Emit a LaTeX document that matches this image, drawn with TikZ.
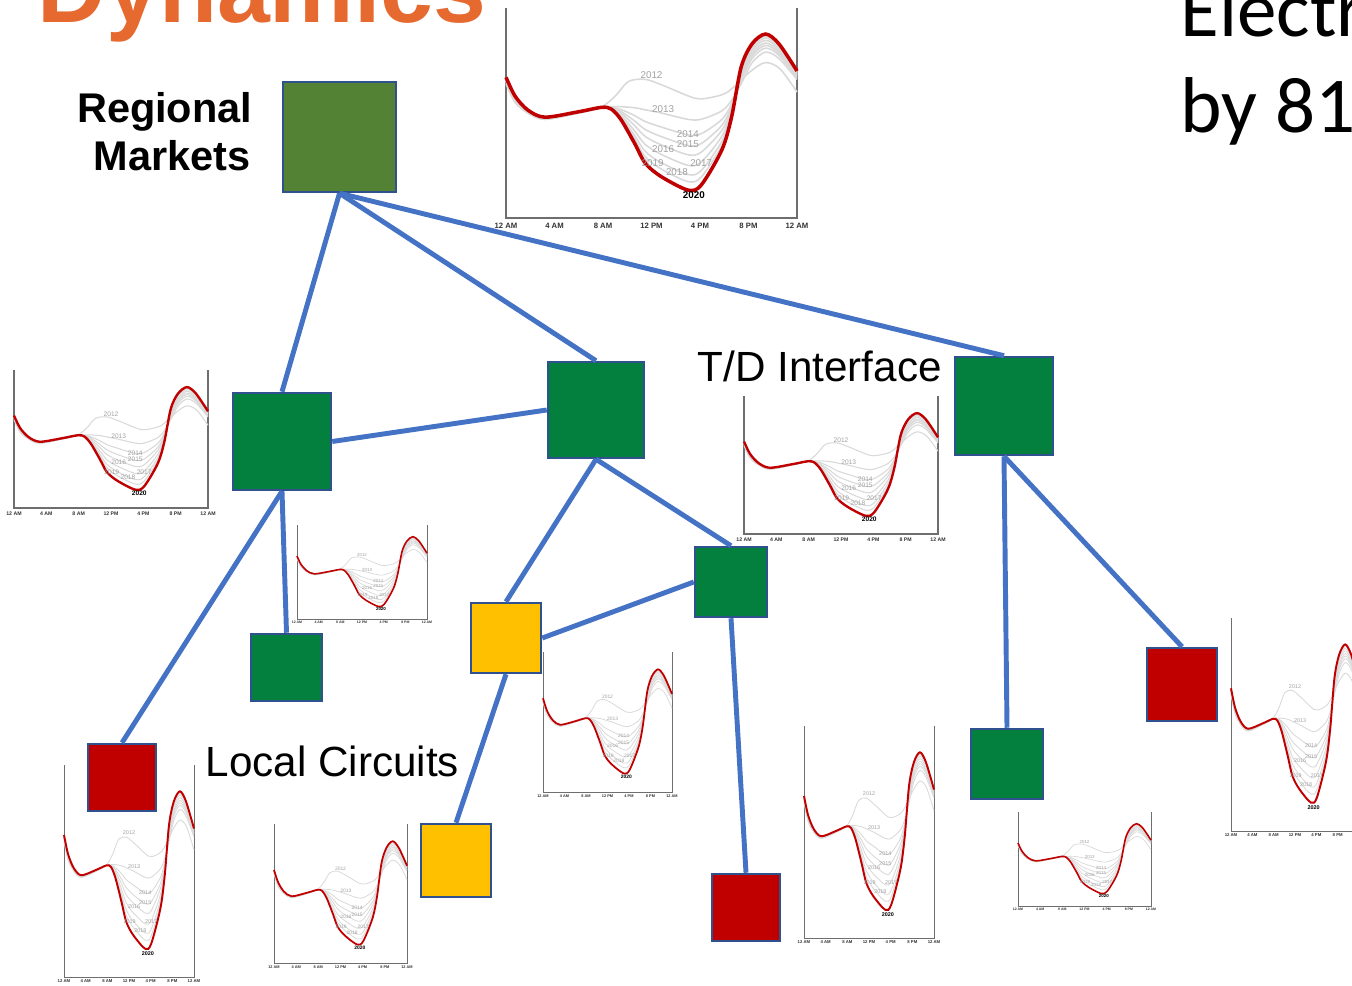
\documentclass[tikz,border=0pt]{standalone}
\usepackage{fontspec}
\setmainfont{Liberation Sans}
\newfontfamily\slidefont{Carlito}
\usepackage{tikz}

\definecolor{titleorange}{RGB}{230,106,48}
\definecolor{boxblue}{RGB}{47,82,143}
\definecolor{linkblue}{RGB}{68,114,196}
\definecolor{olivegreen}{RGB}{84,130,53}
\definecolor{gridgreen}{RGB}{4,128,62}
\definecolor{loadyellow}{RGB}{255,192,0}
\definecolor{loadred}{RGB}{192,0,0}
\definecolor{curvegrey}{RGB}{217,217,217}
\definecolor{yeargrey}{RGB}{160,160,160}
\definecolor{axisgrey}{RGB}{110,110,110}

\tikzset{
  box/.style={draw=boxblue, line width=0.7pt, inner sep=0pt},
  link/.style={draw=linkblue, line width=1.4pt},
  axisline/.style={draw=axisgrey, line width=0.45pt*\cs},
  greyline/.style={draw=curvegrey, line width=0.45pt*\cs},
  redline/.style={draw=loadred, line width=1pt*\cs},
  yearlabel/.style={text=yeargrey, inner sep=0pt, font=\fontsize{\yfs}{\yfs}\selectfont},
  ticklabel/.style={text=black!80, inner sep=0pt, font=\fontsize{\tfs}{\tfs}\selectfont\bfseries},
}

% mix of the 2013 curve and the 2020 curve
\newcommand{\yy}[2]{(#1)*(1-\dt)+(#2)*\dt}
\newcommand{\duckline}[1]{\draw[#1] plot[smooth] coordinates {
  (0,{\yy{.65}{.67}}) (0.75,{\yy{.56}{.58}}) (1.8,{\yy{.50}{.514}}) (3.2,{\yy{.47}{.48}})
  (6,{\yy{.50}{.506}}) (7.9,{\yy{.525}{.527}}) (8.7,{\yy{.53}{.518}}) (9.5,{\yy{.53}{.467}})
  (10.6,{\yy{.525}{.356}}) (11.5,{\yy{.515}{.26}}) (12.8,{\yy{.50}{.197}}) (15,{\yy{.47}{.133}})
  (16.1,{\yy{.47}{.157}}) (17.8,{\yy{.51}{.324}}) (18.6,{\yy{.56}{.48}}) (19.4,{\yy{.64}{.72}})
  (20.3,{\yy{.74}{.83}}) (21.4,{\yy{.79}{.876}}) (22.5,{\yy{.76}{.83}}) (24,{\yy{.66}{.70}})};}

% duck curve chart: name, left, bottom, width, height, size
\newcommand{\duckchart}[6]{%
  \pgfmathsetmacro{\cs}{#6}
  \pgfmathsetmacro{\yfs}{2.8*#6}
  \pgfmathsetmacro{\tfs}{2.2*#6}
  \begin{scope}[shift={(#2,#3)}, xscale=#4/24, yscale=-#5]
    \draw[axisline] (0,1) -- (0,0) -- (24,0) -- (24,1);
    % 2012
    \draw[greyline] plot[smooth] coordinates {(0,.64) (0.75,.55) (1.8,.50) (3.2,.47) (6,.50)
      (7.9,.53) (9,.58) (10.1,.65) (11.5,.66) (13,.63) (15.6,.57) (17,.575) (18.1,.594)
      (18.9,.63) (20.2,.70) (21.4,.74) (22.6,.71) (24,.60)};
    % 2013 to 2019
    \foreach \dt in {0,0.22,0.37,0.5,0.65,0.78,0.88} {\duckline{greyline}}
    % 2020
    \def\dt{1}\duckline{redline}
    \foreach \yr/\h/\v in {2012/12.0/0.68,2013/12.95/0.52,2014/15.0/0.40,2015/15.0/0.35,
        2016/12.95/0.33,2017/16.1/0.26,2018/14.1/0.22,2019/12.1/0.26}
      \node[yearlabel] (#1-\yr) at (\h,\v) {\yr};
    \node[yearlabel, text=black, font=\fontsize{\yfs}{\yfs}\selectfont\bfseries] (#1-2020) at (15.5,0.11) {2020};
    \foreach \h/\lab [count=\k] in {0/12 AM,4/4 AM,8/8 AM,12/12 PM,16/4 PM,20/8 PM,24/12 AM}
      \node[ticklabel] (#1-tick\k) at (\h,{-8*#6/#5}) {\lab};
  \end{scope}}

\begin{document}
\begin{tikzpicture}[x=0.01cm, y=-0.01cm]
    \useasboundingbox (0,0) rectangle (1352,986);
    \clip (0,0) rectangle (1352,986);

    % load charts
    \duckchart{top}{506}{218}{291}{210}{1}
    \duckchart{west}{14}{508}{194}{138}{0.67}
    \duckchart{mid}{297}{619}{130}{94}{0.45}
    \duckchart{td}{744}{534}{194}{138}{0.67}
    \duckchart{east}{543}{792}{129}{140}{0.5}
    \duckchart{low1}{64}{977}{130}{212}{0.55}
    \duckchart{low2}{274}{963}{133}{139}{0.5}
    \duckchart{low3}{804}{938}{130}{212}{0.55}
    \duckchart{low4}{1018}{906}{133}{94}{0.45}
    \duckchart{low5}{1231}{831}{128}{213}{0.55}

    % market and substations
    \node[box, fill=olivegreen, minimum width=1.13cm, minimum height=1.10cm] (market) at (339.5,137) {};
    \node[box, fill=gridgreen, minimum width=0.98cm, minimum height=0.97cm] (sub1) at (282,441.5) {};
    \node[box, fill=gridgreen, minimum width=0.96cm, minimum height=0.96cm] (sub2) at (596,410) {};
    \node[box, fill=gridgreen, minimum width=0.98cm, minimum height=0.98cm] (sub3) at (1004,406) {};

    % circuits
    \node[box, fill=gridgreen, minimum width=0.71cm, minimum height=0.67cm] (cktA) at (286.5,667.5) {};
    \node[box, fill=loadyellow, minimum width=0.70cm, minimum height=0.70cm] (cktB) at (506,638) {};
    \node[box, fill=gridgreen, minimum width=0.72cm, minimum height=0.70cm] (cktC) at (731,582) {};
    \node[box, fill=loadred, minimum width=0.68cm, minimum height=0.67cm] (cktD) at (122,777.5) {};
    \node[box, fill=loadyellow, minimum width=0.70cm, minimum height=0.73cm] (cktE) at (456,860.5) {};
    \node[box, fill=loadred, minimum width=0.68cm, minimum height=0.67cm] (cktF) at (746,907.5) {};
    \node[box, fill=gridgreen, minimum width=0.72cm, minimum height=0.70cm] (cktG) at (1007,764) {};
    \node[box, fill=loadred, minimum width=0.70cm, minimum height=0.73cm] (cktH) at (1182,684.5) {};

    % links
    \draw[link] (market.south) -- (sub1.north);
    \draw[link] (market.south) -- (sub2.north);
    \draw[link] (market.south) -- (sub3.north);
    \draw[link] (sub1.east) -- (sub2.west);
    \draw[link] (sub1.south) -- (cktD.north);
    \draw[link] (sub1.south) -- (cktA.north);
    \draw[link] (sub2.south) -- (cktB.north);
    \draw[link] (sub2.south) -- (cktC.north);
    \draw[link] (cktB.east) -- (cktC.west);
    \draw[link] (cktB.south) -- (cktE.north);
    \draw[link] (cktC.south) -- (cktF.north);
    \draw[link] (sub3.south) -- (cktG.north);
    \draw[link] (sub3.south) -- (cktH.north);

    % labels
    \node[anchor=base west, inner sep=0, text=titleorange, font=\fontsize{27}{30}\selectfont\bfseries] (title) at (37,23) {Dynamics};
    \node[anchor=base west, inner sep=0, font=\slidefont\fontsize{22.5}{27}\selectfont] (headA) at (1180,37) {Electr};
    \node[anchor=base west, inner sep=0, font=\slidefont\fontsize{22.5}{27}\selectfont] (headB) at (1180,133) {by 81};
    \node[anchor=base east, inner sep=0, font=\fontsize{11.8}{14}\selectfont\bfseries] (regA) at (253,123) {Regional};
    \node[anchor=base east, inner sep=0, font=\fontsize{11.8}{14}\selectfont\bfseries] (regB) at (251,171) {Markets};
    \node[anchor=base west, inner sep=0, font=\fontsize{12}{14}\selectfont] (tdlabel) at (697,382) {T/D Interface};
    \node[anchor=base west, inner sep=0, font=\fontsize{12}{14}\selectfont] (local) at (205,777) {Local Circuits};
\end{tikzpicture}
\end{document}
